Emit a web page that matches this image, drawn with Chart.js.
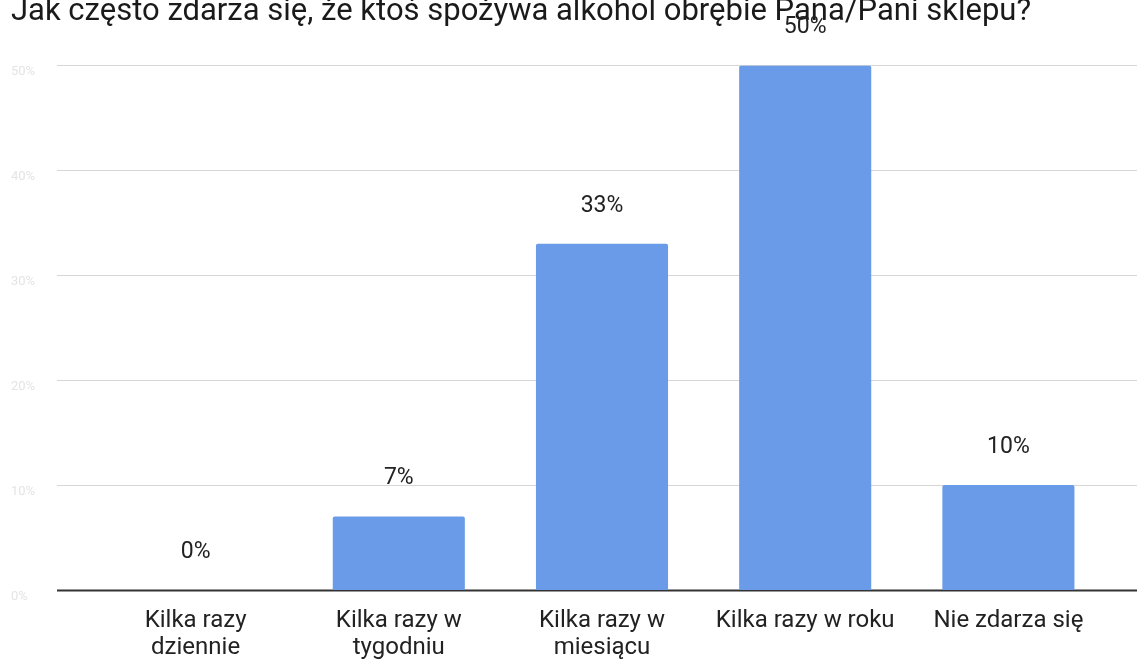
<!DOCTYPE html>
<html lang="pl">
<head>
    <meta charset="UTF-8">
    <title>Jak często zdarza się</title>
    <script src="https://cdn.jsdelivr.net/npm/chart.js"></script>
    <style>
        html, body {
            margin: 0;
            padding: 0;
            background: #ffffff;
        }
        .wrap {
            width: 1137px;
            height: 659px;
            position: relative;
        }
    </style>
</head>
<body>
    <div class="wrap"><canvas id="myChart"></canvas></div>

    <script>
        // dane z wykresu
        const kategorie = [
            ['Kilka razy', 'dziennie'],
            ['Kilka razy w', 'tygodniu'],
            ['Kilka razy w', 'miesiącu'],
            'Kilka razy w roku',
            'Nie zdarza się'
        ];
        const procenty = [0, 7, 33, 50, 10];
        const osY = [0, 10, 20, 30, 40, 50];

        const tytul = 'Jak często zdarza się, że ktoś spożywa alkohol obrębie Pana/Pani sklepu?';

        // linie siatki na całą szerokość (jak w arkuszu)
        const siatka = {
            id: 'siatka',
            beforeDatasetsDraw(chart) {
                const ctx = chart.ctx;
                const y = chart.scales.y;
                ctx.save();
                osY.forEach(v => {
                    const py = Math.round(y.getPixelForValue(v)) + 0.5;
                    ctx.beginPath();
                    ctx.moveTo(57, py);
                    ctx.lineTo(chart.width, py);
                    ctx.lineWidth = v === 0 ? 2 : 1;
                    ctx.strokeStyle = v === 0 ? '#333333' : '#d6d6d6';
                    ctx.stroke();
                });
                ctx.restore();
            }
        };

        // etykiety nad słupkami
        const etykiety = {
            id: 'etykiety',
            afterDatasetsDraw(chart) {
                const ctx = chart.ctx;
                const meta = chart.getDatasetMeta(0);
                ctx.save();
                ctx.font = '23px Roboto';
                ctx.fillStyle = '#222222';
                ctx.textAlign = 'center';
                ctx.textBaseline = 'middle';
                meta.data.forEach((bar, i) => {
                    ctx.fillText(procenty[i] + '%', bar.x, bar.y - 38);
                });
                ctx.restore();
            }
        };

        const ctx1 = document.getElementById('myChart').getContext('2d');
        const myChart = new Chart(ctx1, {
            type: 'bar',
            data: {
                labels: kategorie,
                datasets: [{
                    data: procenty,
                    backgroundColor: '#6a9be9',
                    borderRadius: { topLeft: 2, topRight: 2 },
                    borderSkipped: 'bottom',
                    barPercentage: 0.65,
                    categoryPercentage: 1
                }]
            },
            options: {
                responsive: true,
                maintainAspectRatio: false,
                animation: false,
                layout: {
                    padding: { left: 11, right: 27, top: 0, bottom: 0 }
                },
                plugins: {
                    legend: { display: false },
                    tooltip: { enabled: false },
                    title: {
                        display: true,
                        text: tytul,
                        align: 'start',
                        color: '#1a1a1a',
                        font: { family: 'Roboto', size: 31, weight: 'normal', lineHeight: 0.82 },
                        padding: { top: 0, bottom: 40 }
                    }
                },
                scales: {
                    x: {
                        grid: { display: false, drawTicks: false },
                        border: { display: false },
                        ticks: {
                            color: '#222222',
                            font: { family: 'Roboto', size: 24, lineHeight: 1.12 },
                            padding: 18,
                            maxRotation: 0,
                            autoSkip: false
                        },
                        afterFit(scale) { scale.height = 69; }
                    },
                    y: {
                        min: 0,
                        max: 50,
                        grid: { display: false, drawTicks: false },
                        border: { display: false },
                        ticks: {
                            stepSize: 10,
                            color: '#e4e4e4',
                            font: { family: 'Roboto', size: 13 },
                            padding: 0,
                            align: 'start',
                            crossAlign: 'far',
                            callback: v => v + '%'
                        },
                        afterFit(scale) { scale.width = 83; }
                    }
                }
            },
            plugins: [siatka, etykiety]
        });
    </script>
</body>
</html>
